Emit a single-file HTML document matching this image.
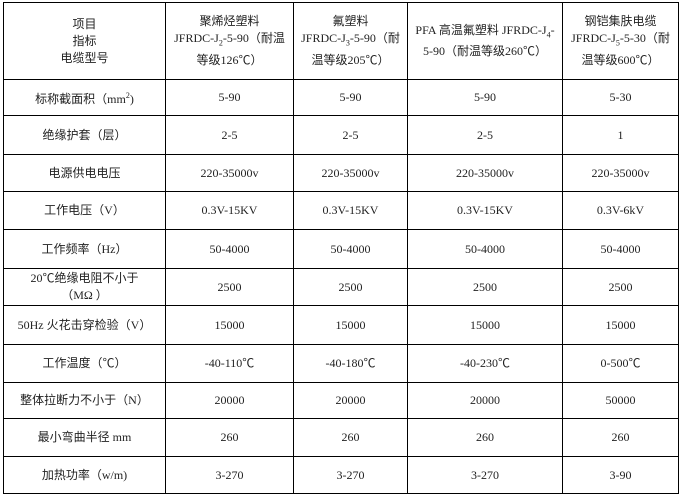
<!DOCTYPE html>
<html><head><meta charset="utf-8"><style>
body{margin:0;width:681px;height:496px;background:#fff;position:relative;overflow:hidden;font-family:"Liberation Serif","Noto Sans CJK SC",serif;font-size:12px;color:#222}
.h{position:absolute;height:1px;background:#000;left:3px;width:676px}
.v{position:absolute;width:1px;background:#000;top:2px;height:492px}
.c{position:absolute;display:flex;align-items:center;justify-content:center;text-align:center;line-height:17px}
.z{font-family:"Liberation Sans","Noto Sans CJK SC",sans-serif}
</style></head><body>
<div class="h" style="top:2px"></div><div class="h" style="top:79px"></div><div class="h" style="top:115px"></div><div class="h" style="top:154px"></div><div class="h" style="top:191px"></div><div class="h" style="top:229px"></div><div class="h" style="top:268px"></div><div class="h" style="top:305px"></div><div class="h" style="top:344px"></div><div class="h" style="top:382px"></div><div class="h" style="top:418px"></div><div class="h" style="top:456px"></div><div class="h" style="top:493px"></div>
<div class="v" style="left:3px"></div><div class="v" style="left:165px"></div><div class="v" style="left:293px"></div><div class="v" style="left:407px"></div><div class="v" style="left:562px"></div><div class="v" style="left:678px"></div>
<div id="t"></div>
<script>
var cols=[3,165,293,407,562,678],rows=[2,79,115,154,191,229,268,305,344,382,418,456,493];
var d=[
['<span class="z">项目<br>指标<br>电缆型号</span>','<span class="z">聚烯烃塑料</span><br>JFRDC-J<sub style="font-size:8px">2</sub>-5-90<span class="z">（耐温<br>等级</span>126℃<span class="z">）</span>','<span class="z">氟塑料</span><br>JFRDC-J<sub style="font-size:8px">3</sub>-5-90<span class="z">（耐<br>温等级</span>205℃<span class="z">）</span>','PFA <span class="z">高温氟塑料</span> JFRDC-J<sub style="font-size:8px">4</sub>-<br>5-90<span class="z">（耐温等级</span>260℃<span class="z">）</span>','<span class="z">钢铠集肤电缆</span><br>JFRDC-J<sub style="font-size:8px">5</sub>-5-30<span class="z">（耐<br>温等级</span>600℃<span class="z">）</span>'],
['<span class="z">标称截面积（</span>mm<sup style="font-size:8px">2</sup>)','5-90','5-90','5-90','5-30'],
['<span class="z">绝缘护套（层）</span>','2-5','2-5','2-5','1'],
['<span class="z">电源供电电压</span>','220-35000v','220-35000v','220-35000v','220-35000v'],
['<span class="z">工作电压（</span>V<span class="z">）</span>','0.3V-15KV','0.3V-15KV','0.3V-15KV','0.3V-6kV'],
['<span class="z">工作频率（</span>Hz<span class="z">）</span>','50-4000','50-4000','50-4000','50-4000'],
['20℃<span class="z">绝缘电阻不小于<br>（</span>MΩ <span class="z">）</span>','2500','2500','2500','2500'],
['50Hz <span class="z">火花击穿检验（</span>V<span class="z">）</span>','15000','15000','15000','15000'],
['<span class="z">工作温度（</span>℃<span class="z">）</span>','-40-110℃','-40-180℃','-40-230℃','0-500℃'],
['<span class="z">整体拉断力不小于（</span>N<span class="z">）</span>','20000','20000','50000'.replace('50000','20000'),'50000'],
['<span class="z">最小弯曲半径</span> mm','260','260','260','260'],
['<span class="z">加热功率（</span>w/m)','3-270','3-270','3-270','3-90']];
var h='';
for(var r=0;r<d.length;r++)for(var c=0;c<5;c++){h+='<div class="c" style="left:'+(cols[c]+2)+'px;width:'+(cols[c+1]-cols[c]-3)+'px;top:'+(rows[r]+1)+'px;height:'+(rows[r+1]-rows[r]-1)+'px"><div>'+d[r][c]+'</div></div>';}
document.getElementById('t').innerHTML=h;
</script>
</body></html>
